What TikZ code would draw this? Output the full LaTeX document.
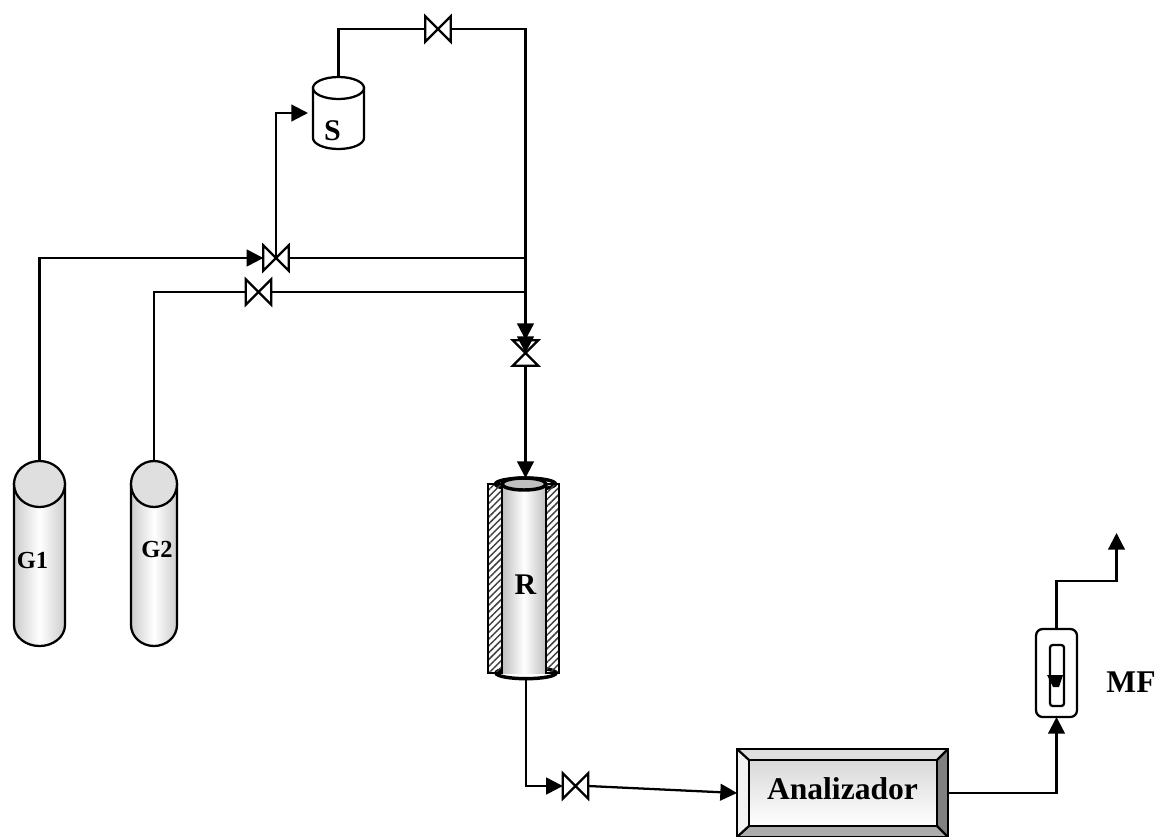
\documentclass[tikz,border=0pt]{standalone}
\usepackage{fontspec}
\setmainfont{Liberation Serif}
\usetikzlibrary{arrows.meta,patterns.meta,shapes.geometric}
\tikzset{
    valvebox/.style={minimum width=19pt, minimum height=19pt, inner sep=0pt, outer sep=0pt},
    vesselbox/.style={inner sep=0pt, outer sep=0pt},
    rim/.style={draw, ellipse, inner sep=0pt, outer sep=0pt, line width=2.6pt},
    jacket/.style={draw, inner sep=0pt, outer sep=0pt, minimum height=141.75pt,
        pattern={Lines[angle=45, distance=3.6pt, line width=1.1pt]}, pattern color=black!75},
    tag/.style={font=\bfseries\fontsize{22.5}{26}\selectfont, anchor=base, inner sep=0pt},
    bigtag/.style={font=\bfseries\fontsize{23.7}{28}\selectfont, anchor=base, inner sep=0pt},
    smalltag/.style={font=\bfseries\fontsize{18.4}{22}\selectfont, anchor=base, inner sep=0pt},
}
\begin{document}
\begin{tikzpicture}[x=0.75pt, y=-0.75pt, line width=1.7pt, >={Triangle[length=12.5pt, width=12.5pt]}]
    \useasboundingbox (0,0) rectangle (1155,836);

    \foreach \A/\X/\W/\LX/\LY in { G1/39.5/38.25/32.5/568,
                                   G2/154/34.5/157/557
        } {
        \node[vesselbox, minimum width=\W pt, minimum height=138.75pt](tank\A) at (\X,553.5) {};
        \draw[left color=gray!40, right color=gray!40, middle color=white]
            ([yshift=-17.25pt]tank\A.north west) -- ([yshift=15.75pt]tank\A.south west)
            arc[start angle=180, end angle=360, x radius=\W pt/2, y radius=15.75pt]
            -- ([yshift=-17.25pt]tank\A.north east) -- cycle;
        \node[draw, ellipse, fill=gray!25, inner sep=0pt, outer sep=0pt, minimum width=\W pt, minimum height=34.5pt](lid\A) at ([yshift=-17.25pt]tank\A.north) {};
        \node[smalltag](label\A) at (\LX,\LY) {\A};
        }

    \node[vesselbox, minimum width=38.25pt, minimum height=54pt](tankS) at (338.5,113) {};
    \draw[fill=white] ([yshift=-8.25pt]tankS.north west) -- ([yshift=8.25pt]tankS.south west)
        arc[start angle=180, end angle=360, x radius=19.125pt, y radius=8.25pt]
        -- ([yshift=-8.25pt]tankS.north east) -- cycle;
    \node[draw, ellipse, fill=white, inner sep=0pt, outer sep=0pt, minimum width=38.25pt, minimum height=16.5pt](lidS) at ([yshift=-8.25pt]tankS.north) {};
    \node[tag](labelS) at (332.5,140) {S};

    \foreach \A/\X/\Y in { A/276/258,
                           B/258.5/292,
                           C/438/29,
                           E/575.5/786
        } {
        \node[valvebox](valve\A) at (\X,\Y) {};
        \draw (valve\A.north west) -- (valve\A.south east) -- (valve\A.north east) -- (valve\A.south west) -- cycle;
        }
    \node[valvebox](valveD) at (525.5,353) {};
    \draw (valveD.north west) -- (valveD.north east) -- (valveD.south west) -- (valveD.south east) -- cycle;

    \node[rim, minimum width=45pt, minimum height=8.5pt](rimBottom) at (526,673) {};
    \node[rim, minimum width=45pt, minimum height=9pt](rimTop) at (525.5,484) {};
    \node[vesselbox, minimum width=33pt, minimum height=141.75pt, left color=gray!50, right color=gray!50, middle color=white](reactor) at (524,578.5) {};
    \node[jacket, minimum width=10.5pt](jacketL) at (495,578.5) {};
    \node[jacket, minimum width=9.75pt](jacketR) at (552.5,578.5) {};
    \node[rim, fill=gray!50, minimum width=33pt, minimum height=9pt](rimInner) at (524,484) {};
    \node[tag](labelR) at (525.5,594) {R};

    \node[draw, vesselbox, minimum width=158.25pt, minimum height=66pt, fill=gray!25](frame) at (842.5,793) {};
    \fill[gray!10] (frame.north west) -- (749,760) -- (749,826) -- (frame.south west) -- cycle;
    \fill[gray!100] (frame.north east) -- (937,760) -- (937,826) -- (frame.south east) -- cycle;
    \fill[gray!65] (frame.south west) -- (749,826) -- (937,826) -- (frame.south east) -- cycle;
    \draw (frame.north west) -- (749,760);
    \draw (frame.north east) -- (937,760);
    \draw (frame.south west) -- (749,826);
    \draw (frame.south east) -- (937,826);
    \draw (frame.north west) rectangle (frame.south east);
    \node[draw, vesselbox, minimum width=141pt, minimum height=49.5pt, top color=gray!30, bottom color=white](analizador) at (843,793) {};
    \node[bigtag](labelAnalizador) at (842.5,799) {Analizador};

    \node[draw, vesselbox, rounded corners=5pt, minimum width=30.75pt, minimum height=66pt](mfbox) at (1056.5,673) {};
    \node[draw, vesselbox, rounded corners=2pt, minimum width=10.5pt, minimum height=45.75pt](mftube) at (1057,675.5) {};
    \fill (1047,675) -- (1063,675) -- (1059,687) -- (1053,687) -- cycle;
    \node[bigtag](labelMF) at (1131,692) {MF};

    \coordinate (jointA) at (525.5,258);
    \coordinate (jointB) at (525.5,292);
    \coordinate (tipA) at (525.5,340);
    \coordinate (ventbend) at (1116.5,581);
    \coordinate (vent) at (1116.5,533);

    \draw[->] (tankG1.north) |- (valveA.west);
    \draw[->] (valveA.center) |- ([xshift=-3.75pt]tankS.west);
    \draw (tankG2.north) |- (valveB.west);
    \draw (valveA.east) -- (jointA);
    \draw (valveB.east) -- (jointB);
    \draw (tankS.north) |- (valveC.west);
    \draw[->] (valveC.east) -| (tipA);
    \draw[->] (jointA) -- (valveD.center);
    \draw[->] (valveD.south) -- (rimTop.north);
    \draw[->] (rimBottom.south) |- (valveE.west);
    \draw[->] (valveE.east) -- (frame.west);
    \draw[->] (frame.east) -| (mfbox.south);
    \draw[->] (mfbox.north) |- (ventbend) -- (vent);
\end{tikzpicture}
\end{document}
